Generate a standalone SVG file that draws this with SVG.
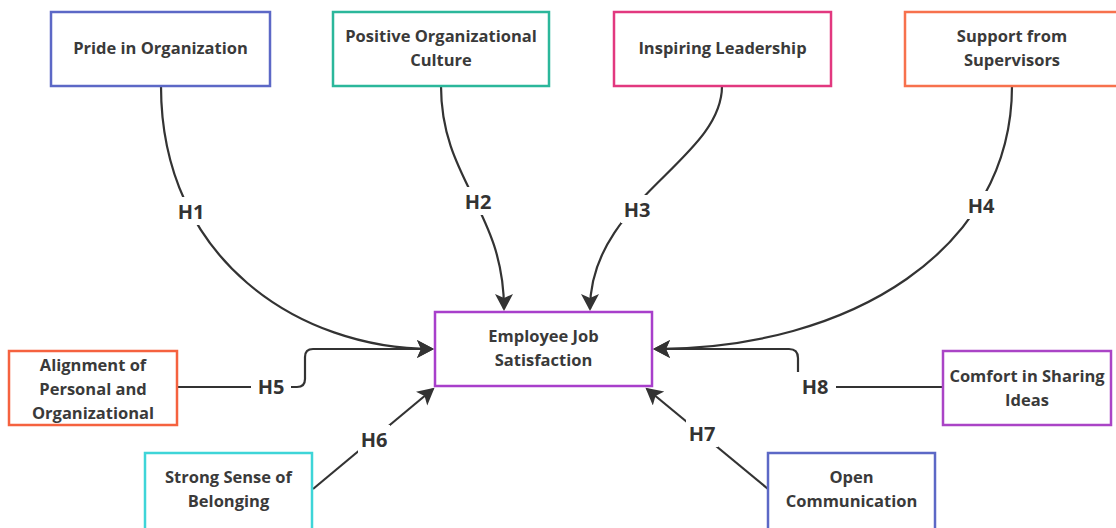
<svg xmlns="http://www.w3.org/2000/svg" width="1116" height="528" viewBox="0 0 1116 528">
<defs>
<marker id="arr" markerUnits="userSpaceOnUse" markerWidth="20" markerHeight="20" refX="15" refY="9" orient="auto">
<path d="M0,0 L17,9 L0,18 L4,9 Z" fill="#333"/>
</marker>
<style>
.box{fill:#fff;stroke-width:2.5}
.t{font-family:"Open Sans","Liberation Sans",sans-serif;font-weight:700;font-size:16.5px;fill:#3a3a3a;text-anchor:middle}
.h{font-family:"Open Sans","Liberation Sans",sans-serif;font-weight:700;font-size:20px;fill:#333;text-anchor:middle}
.c{fill:none;stroke:#333;stroke-width:2.2}
.bg{fill:#fff}
</style>
</defs>
<rect width="1116" height="528" fill="#fff"/>
<g id="connectors">
<path class="c" d="M161,86 C161,260 300,349 432,349" marker-end="url(#arr)"/>
<path class="c" d="M441,86 C441,180 504,210 504,309" marker-end="url(#arr)"/>
<path class="c" d="M722,86 C722,160 590,200 590,309" marker-end="url(#arr)"/>
<path class="c" d="M1012,86 C1012,250 850,349 655,349" marker-end="url(#arr)"/>
<path class="c" d="M177,387 L297,387 Q305,387 305,379 L305,357 Q305,349 313,349 L432,349" marker-end="url(#arr)"/>
<path class="c" d="M313,489 L433,389" marker-end="url(#arr)"/>
<path class="c" d="M768,489 L647,389" marker-end="url(#arr)"/>
<path class="c" d="M943,387 L798,387 L798,358 Q798,349 789,349 L655,349" marker-end="url(#arr)"/>
<rect class="bg" x="175" y="197" width="32" height="28"/>
<rect class="bg" x="462" y="187" width="32" height="28"/>
<rect class="bg" x="621" y="195" width="32" height="28"/>
<rect class="bg" x="965" y="191" width="32" height="28"/>
<rect class="bg" x="251" y="373" width="40" height="28"/>
<rect class="bg" x="358" y="425" width="32" height="28"/>
<rect class="bg" x="686" y="419" width="32" height="28"/>
<rect class="bg" x="796" y="372" width="40" height="30"/>
<text class="h" x="191" y="219">H1</text>
<text class="h" x="478" y="209">H2</text>
<text class="h" x="637" y="217">H3</text>
<text class="h" x="981" y="213">H4</text>
<text class="h" x="271" y="394">H5</text>
<text class="h" x="374" y="447">H6</text>
<text class="h" x="702" y="441">H7</text>
<text class="h" x="815" y="394">H8</text>
</g>
<g id="n1"><rect class="box" x="51" y="12" width="219" height="74" stroke="#5c68c6"/><text class="t" x="160.5" y="54">Pride in Organization</text></g>
<g id="n2"><rect class="box" x="333" y="12" width="216" height="74" stroke="#2bb79b"/><text class="t" x="441" y="42">Positive Organizational</text><text class="t" x="441" y="66">Culture</text></g>
<g id="n3"><rect class="box" x="614" y="12" width="217" height="74" stroke="#e2387f"/><text class="t" x="722.5" y="54">Inspiring Leadership</text></g>
<g id="n4"><rect class="box" x="905" y="12" width="214" height="74" stroke="#f7714d"/><text class="t" x="1012" y="42">Support from</text><text class="t" x="1012" y="66">Supervisors</text></g>
<g id="n5"><rect class="box" x="435" y="312" width="217" height="74" stroke="#a83fcb"/><text class="t" x="543.5" y="342">Employee Job</text><text class="t" x="543.5" y="366">Satisfaction</text></g>
<g id="n6"><rect class="box" x="9" y="351" width="168" height="74" stroke="#f5623f"/><text class="t" x="93" y="371">Alignment of</text><text class="t" x="93" y="395">Personal and</text><text class="t" x="93" y="419">Organizational</text></g>
<g id="n7"><rect class="box" x="145" y="453" width="167" height="80" stroke="#3ed5d8"/><text class="t" x="228.5" y="483">Strong Sense of</text><text class="t" x="228.5" y="507">Belonging</text></g>
<g id="n8"><rect class="box" x="943" y="351" width="168" height="74" stroke="#aa44c6"/><text class="t" x="1027" y="382">Comfort in Sharing</text><text class="t" x="1027" y="406">Ideas</text></g>
<g id="n9"><rect class="box" x="768" y="453" width="167" height="80" stroke="#5c68c6"/><text class="t" x="851.5" y="483">Open</text><text class="t" x="851.5" y="507">Communication</text></g>
</svg>
